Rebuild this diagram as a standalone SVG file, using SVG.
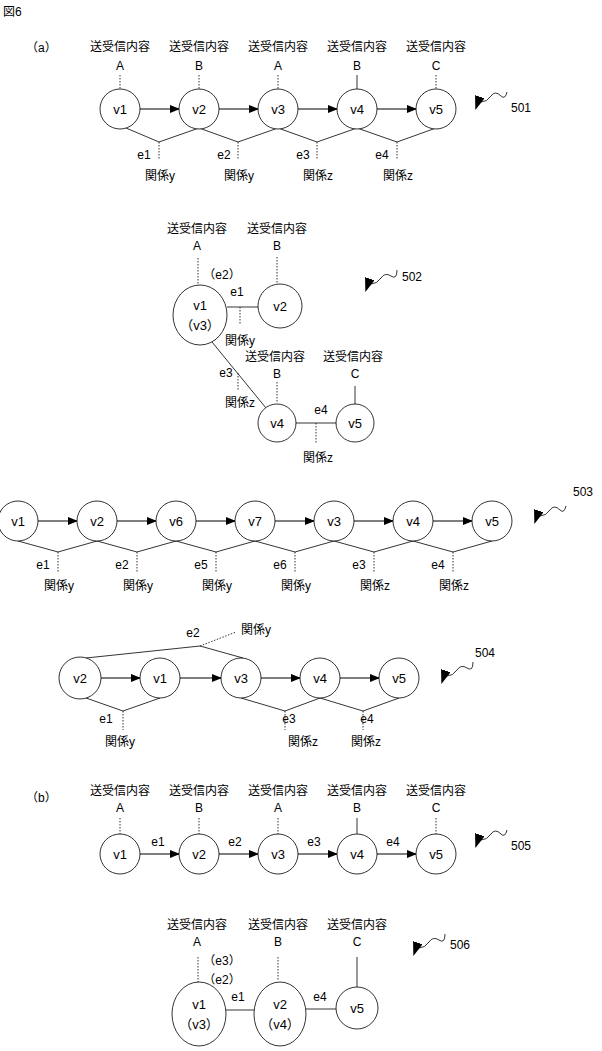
<svg xmlns="http://www.w3.org/2000/svg" width="602" height="1051" viewBox="0 0 602 1051">
<defs>
<style>
text{font-family:"Liberation Sans","Noto Sans CJK JP",sans-serif;font-size:12px;fill:#000;text-anchor:middle}
.l{text-anchor:start}
.n{font-size:13px}
circle,ellipse{fill:#fff;stroke:#000;stroke-width:0.8}
.ln{stroke:#000;stroke-width:0.8;fill:none}
.d{stroke:#000;stroke-width:0.8;stroke-dasharray:1.5 1.5;fill:none}
.a{stroke:#000;stroke-width:1.2;fill:none;marker-end:url(#ah)}
.s{stroke:#000;stroke-width:0.8;fill:none;marker-end:url(#ah2)}
</style>
<marker id="ah" markerWidth="10" markerHeight="8" refX="9" refY="4" orient="auto" markerUnits="userSpaceOnUse"><path d="M0,0L10,4L0,8z" fill="#000"/></marker>
<marker id="ah2" markerWidth="14" markerHeight="10" refX="12" refY="5" orient="auto" markerUnits="userSpaceOnUse"><path d="M0,0L14,5L0,10z" fill="#000"/></marker>
</defs>
<text class="l" x="3" y="16">図6</text>
<text class="l" x="26" y="52">（a）</text>
<text class="l" x="26" y="802">（b）</text>

<g id="g501">
<g id="labels501">
<text x="120" y="51">送受信内容</text><text x="120" y="70">A</text>
<text x="199" y="51">送受信内容</text><text x="199" y="70">B</text>
<text x="278" y="51">送受信内容</text><text x="278" y="70">A</text>
<text x="357" y="51">送受信内容</text><text x="357" y="70">B</text>
<text x="436" y="51">送受信内容</text><text x="436" y="70">C</text>
<text x="521" y="112">501</text>
</g>
<g id="connectors501">
<path class="d" d="M120,75V90M199,75V90M278,75V90M436,75V90"/><path class="ln" d="M357,75V90"/>
<path class="a" d="M140,109H179"/><path class="a" d="M219,109H258"/><path class="a" d="M298,109H337"/><path class="a" d="M377,109H416"/>
<path class="ln" d="M126,128L159,142L199,128L238,142L278,128L317,142L357,128L397,142L436,128"/>
<path class="d" d="M159,142V160M238,142V160M317,142V160M397,142V160"/>
<path class="s" d="M507,92q-2,8-6,4q-6,-6-10,0q-4,6-10,6q-3,0-5,6"/>
</g>
<g id="n501"><circle cx="120" cy="109" r="20"/><text class="n" x="120" y="114">v1</text>
<circle cx="199" cy="109" r="20"/><text class="n" x="199" y="114">v2</text>
<circle cx="278" cy="109" r="20"/><text class="n" x="278" y="114">v3</text>
<circle cx="357" cy="109" r="20"/><text class="n" x="357" y="114">v4</text>
<circle cx="436" cy="109" r="20"/><text class="n" x="436" y="114">v5</text></g>
<text x="144" y="159">e1</text><text x="224" y="159">e2</text><text x="303" y="159">e3</text><text x="382" y="159">e4</text>
<text x="160" y="180">関係y</text><text x="239" y="180">関係y</text><text x="318" y="180">関係z</text><text x="398" y="180">関係z</text>
</g>

<g id="g502">
<text x="197" y="233">送受信内容</text><text x="197" y="250">A</text>
<text x="277" y="233">送受信内容</text><text x="277" y="250">B</text>
<text x="222" y="279">（e2）</text><text x="237" y="296">e1</text>
<text x="240" y="345">関係y</text>
<text x="226" y="377">e3</text><text x="240" y="407">関係z</text>
<text x="275" y="361">送受信内容</text><text x="277" y="378">B</text>
<text x="353" y="361">送受信内容</text><text x="355" y="378">C</text>
<text x="321" y="414">e4</text><text x="318" y="462">関係z</text>
<text x="412" y="281">502</text>
<g id="connectors502">
<path class="d" d="M198,258V287M277,257V283M238,373V391M277,382V403M316,423V443M240,307V325"/>
<path class="ln" d="M355,386V404M227,307H258M212,342L266,408M296,423H336"/>
<path class="s" d="M397,270q0,10-6,6q-6,-4-10,2q-4,6-10,6q-3,0-5,6"/>
</g>
<g id="n502"><ellipse cx="200" cy="315" rx="27" ry="30"/><text class="n" x="200" y="310">v1</text><text class="n" x="200" y="330">（v3）</text>
<circle cx="280" cy="306" r="22"/><text class="n" x="280" y="311">v2</text>
<circle cx="277" cy="423" r="19"/><text class="n" x="277" y="428">v4</text>
<circle cx="355" cy="423" r="19"/><text class="n" x="355" y="428">v5</text></g>
</g>

<g id="g503">
<g id="connectors503">
<path class="a" d="M38,521H77"/><path class="a" d="M117,521H156"/><path class="a" d="M196,521H235"/><path class="a" d="M275,521H314"/><path class="a" d="M354,521H393"/><path class="a" d="M433,521H472"/>
<path class="ln" d="M18,541L58,552L97,541L137,552L176,541L216,552L255,541L295,552L334,541L374,552L413,541L453,552L492,541"/>
<path class="d" d="M58,552V572M137,552V572M216,552V572M295,552V572M374,552V572M453,552V572"/>
<path class="s" d="M566,506q-2,8-6,4q-6,-6-10,0q-4,6-10,6q-3,0-5,6"/>
</g>
<g id="n503">
<circle cx="18" cy="521" r="20"/><text class="n" x="18" y="526">v1</text>
<circle cx="97" cy="521" r="20"/><text class="n" x="97" y="526">v2</text>
<circle cx="176" cy="521" r="20"/><text class="n" x="176" y="526">v6</text>
<circle cx="255" cy="521" r="20"/><text class="n" x="255" y="526">v7</text>
<circle cx="334" cy="521" r="20"/><text class="n" x="334" y="526">v3</text>
<circle cx="413" cy="521" r="20"/><text class="n" x="413" y="526">v4</text>
<circle cx="492" cy="521" r="20"/><text class="n" x="492" y="526">v5</text>
</g>
<text x="43" y="569">e1</text><text x="122" y="569">e2</text><text x="201" y="569">e5</text><text x="280" y="569">e6</text><text x="359" y="569">e3</text><text x="438" y="569">e4</text>
<text x="59" y="590">関係y</text><text x="138" y="590">関係y</text><text x="217" y="590">関係y</text><text x="296" y="590">関係y</text><text x="375" y="590">関係z</text><text x="454" y="590">関係z</text>
<text x="583" y="496">503</text>
</g>

<g id="g504">
<g id="connectors504">
<path class="a" d="M101,678H140"/><path class="a" d="M180,678H221"/><path class="a" d="M261,678H300"/><path class="a" d="M340,678H379"/>
<path class="ln" d="M86,658L200,646L243,658"/>
<path class="d" d="M200,646L236,632"/>
<path class="ln" d="M86,698L123,711L160,698M241,698L285,711L320,698L363,711L399,698"/>
<path class="d" d="M123,711V730M285,711V730M363,711V730"/>
<path class="s" d="M473,662q0,10-6,6q-6,-4-10,2q-4,6-10,6q-3,0-5,6"/>
</g>
<g id="n504">
<circle cx="80" cy="678" r="21"/><text class="n" x="80" y="683">v2</text>
<circle cx="160" cy="678" r="20"/><text class="n" x="160" y="683">v1</text>
<circle cx="241" cy="678" r="20"/><text class="n" x="241" y="683">v3</text>
<circle cx="320" cy="678" r="20"/><text class="n" x="320" y="683">v4</text>
<circle cx="399" cy="678" r="20"/><text class="n" x="399" y="683">v5</text>
</g>
<text x="193" y="637">e2</text><text x="256" y="634">関係y</text>
<text x="106" y="723">e1</text><text x="120" y="746">関係y</text>
<text x="289" y="723">e3</text><text x="303" y="746">関係z</text>
<text x="367" y="723">e4</text><text x="366" y="746">関係z</text>
<text x="485" y="657">504</text>
</g>

<g id="g505">
<text x="120" y="795">送受信内容</text><text x="120" y="812">A</text>
<text x="199" y="795">送受信内容</text><text x="199" y="812">B</text>
<text x="278" y="795">送受信内容</text><text x="278" y="812">A</text>
<text x="357" y="795">送受信内容</text><text x="357" y="812">B</text>
<text x="436" y="795">送受信内容</text><text x="436" y="812">C</text>
<g id="connectors505">
<path class="d" d="M120,818V834M199,818V834M278,818V834M436,818V834"/><path class="ln" d="M357,818V834"/>
<path class="a" d="M140,854H179"/><path class="a" d="M219,854H258"/><path class="a" d="M298,854H337"/><path class="a" d="M377,854H416"/>
<path class="s" d="M507,830q-2,8-6,4q-6,-6-10,0q-4,6-10,6q-3,0-5,6"/>
</g>
<g id="n505"><circle cx="120" cy="854" r="20"/><text class="n" x="120" y="859">v1</text>
<circle cx="199" cy="854" r="20"/><text class="n" x="199" y="859">v2</text>
<circle cx="278" cy="854" r="20"/><text class="n" x="278" y="859">v3</text>
<circle cx="357" cy="854" r="20"/><text class="n" x="357" y="859">v4</text>
<circle cx="436" cy="854" r="20"/><text class="n" x="436" y="859">v5</text></g>
<text x="158" y="846">e1</text><text x="235" y="846">e2</text><text x="314" y="846">e3</text><text x="393" y="846">e4</text>
<text x="521" y="850">505</text>
</g>

<g id="g506">
<text x="197" y="929">送受信内容</text><text x="197" y="946">A</text>
<text x="278" y="929">送受信内容</text><text x="278" y="946">B</text>
<text x="357" y="929">送受信内容</text><text x="357" y="946">C</text>
<text x="222" y="965">（e3）</text><text x="222" y="984">（e2）</text><text x="238" y="1001">e1</text><text x="320" y="1001">e4</text>
<text x="460" y="949">506</text>
<g id="connectors506">
<path class="d" d="M198,957V982M278,957V980"/>
<path class="ln" d="M357,957V988M226,1010H254M306,1009H337"/>
<path class="s" d="M445,934q0,10-6,6q-6,-4-10,2q-4,6-10,6q-3,0-5,6"/>
</g>
<g id="n506">
<ellipse cx="199" cy="1014" rx="27" ry="32"/><text class="n" x="199" y="1009">v1</text><text class="n" x="199" y="1029">（v3）</text>
<ellipse cx="280" cy="1014" rx="26" ry="32"/><text class="n" x="280" y="1009">v2</text><text class="n" x="280" y="1029">（v4）</text>
<circle cx="357" cy="1008" r="21"/><text class="n" x="357" y="1013">v5</text>
</g>
</g>
</svg>
